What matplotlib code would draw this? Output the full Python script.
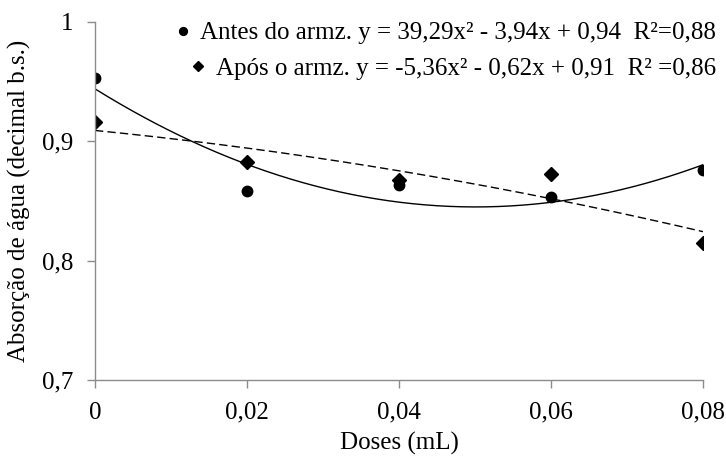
import matplotlib
matplotlib.use('Agg')
import matplotlib.pyplot as plt
import numpy as np

# doses (mL)
doses = [0.0, 0.02, 0.04, 0.06, 0.08]
# water absorption (decimal b.s.)
antes = [0.953, 0.858, 0.863, 0.853, 0.876]
apos = [0.916, 0.883, 0.868, 0.873, 0.815]

label_antes = 'Antes do armz. y = 39,29x² - 3,94x + 0,94  R²=0,88'
label_apos = 'Após o armz. y = -5,36x² - 0,62x + 0,91  R² =0,86'

xticks = [0, 0.02, 0.04, 0.06, 0.08]
xtick_labels = ['0', '0,02', '0,04', '0,06', '0,08']
yticks = [0.7, 0.8, 0.9, 1.0]
ytick_labels = ['0,7', '0,8', '0,9', '1']

plt.rcParams['font.family'] = ['Liberation Serif', 'DejaVu Serif']
Fontsize = 18
gray = '#8c8c8c'

fig = plt.figure(figsize=(7.26, 4.57), dpi=100)
ax = fig.add_axes([95/726, 77/457, 608/726, 358/457])

# 2nd order trend lines, fitted on the points
xs = np.linspace(doses[0], doses[-1], 200)
fit_antes = np.polyfit(doses, antes, 2)
fit_apos = np.polyfit(doses, apos, 2)
ax.plot(xs, np.polyval(fit_antes, xs), '-', color='black', linewidth=1)
ax.plot(xs, np.polyval(fit_apos, xs), '--', color='black', linewidth=1, dashes=(6, 3))

h1, = ax.plot(doses, antes, 'o', color='black', markersize=7.5, linestyle='none', label=label_antes)
h2, = ax.plot(doses, apos, 'D', color='black', markersize=7, linestyle='none', label=label_apos)

ax.set_xlim(0, 0.08)
ax.set_ylim(0.7, 1.0)
ax.set_xticks(xticks)
ax.set_xticklabels(xtick_labels)
ax.set_yticks(yticks)
ax.set_yticklabels(ytick_labels)
ax.tick_params(axis='both', direction='out', length=5.5, width=1, color=gray,
               labelsize=Fontsize, pad=10)

for s in ['top', 'right']:
    ax.spines[s].set_visible(False)
for s in ['left', 'bottom']:
    ax.spines[s].set_color(gray)
    ax.spines[s].set_linewidth(1)

ax.set_xlabel('Doses (mL)', fontsize=Fontsize, labelpad=6)
ax.set_ylabel('Absorção de água (decimal b.s.)', fontsize=Fontsize, labelpad=8)

leg_kw = dict(loc='upper right', frameon=False, fontsize=Fontsize, borderpad=0,
              borderaxespad=0, handlelength=0.6, handletextpad=0.4,
              markerscale=0.75, bbox_transform=fig.transFigure)
leg1 = ax.legend(handles=[h1], bbox_to_anchor=(716/726, 1 - 22/457), **leg_kw)
ax.add_artist(leg1)
ax.legend(handles=[h2], bbox_to_anchor=(716/726, 1 - 57/457), **leg_kw)

plt.savefig('out.png', dpi=100)
plt.close(fig)
